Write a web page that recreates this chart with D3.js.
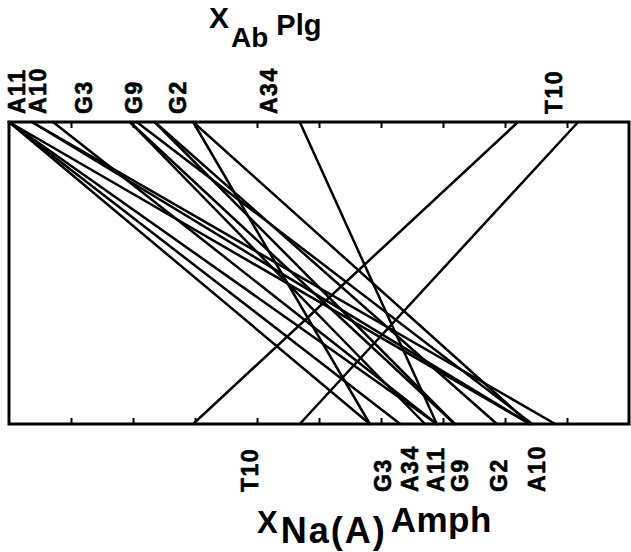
<!DOCTYPE html>
<html><head><meta charset="utf-8">
<script src="https://cdn.jsdelivr.net/npm/d3@7"></script>
<style>body{margin:0;background:#fff}svg{display:block}text{font-family:"Liberation Sans",Arial,sans-serif;font-weight:bold;fill:#000}</style>
</head><body><div id="chart"></div>
<script>
// Tie-lines: plagioclase X_Ab (top axis) to amphibole X_Na(A) (bottom axis), relative axis units 0..1
const plgAb   = [0.000, 0.000, 0.000, 0.000, 0.037, 0.037, 0.071, 0.195, 0.206, 0.235, 0.235, 0.297, 0.297, 0.469, 0.821, 0.918, 0.195];
const amphNaA = [0.582, 0.631, 0.690, 0.840, 0.840, 0.881, 0.690, 0.719, 0.844, 0.719, 0.787, 0.582, 0.840, 0.690, 0.297, 0.469, 0.671];
// Sample labels and their positions on each axis
const topSamples    = ["A11", "A10", "G3", "G9", "G2", "A34", "T10"];
const topSamplePos  = [0.011, 0.045, 0.119, 0.200, 0.271, 0.418, 0.877];
const bottomSamples = ["T10", "G3", "A34", "A11", "G9", "G2", "A10"];
const bottomSamplePos = [0.387, 0.602, 0.645, 0.687, 0.726, 0.789, 0.850];
const tickValues = [0.1, 0.2, 0.3, 0.4, 0.5, 0.6, 0.7, 0.8, 0.9];

(function () {
const W = 631, H = 552;
const pL = 9, pR = 629, pT = 122, pB = 424;
const svg = d3.select("#chart").append("svg").attr("width", W).attr("height", H);
const x = d3.scaleLinear().domain([0, 1]).range([pL, pR]);

// frame
svg.append("rect").attr("x", pL).attr("y", pT).attr("width", pR - pL).attr("height", pB - pT)
  .attr("fill", "none").attr("stroke", "#000").attr("stroke-width", 3);

// ticks (inward)
const topAxis = d3.axisBottom(x).tickValues(tickValues).tickSize(6).tickFormat("");
const botAxis = d3.axisTop(x).tickValues(tickValues).tickSize(6).tickFormat("");
const gT = svg.append("g").attr("transform", `translate(0,${pT})`).call(topAxis);
const gB = svg.append("g").attr("transform", `translate(0,${pB})`).call(botAxis);
[gT, gB].forEach(g => { g.select(".domain").remove(); g.selectAll("line").attr("stroke", "#000").attr("stroke-width", 2); });

// tie lines
svg.append("g").selectAll("line").data(plgAb).join("line")
  .attr("x1", d => x(d)).attr("y1", pT)
  .attr("x2", (d, i) => x(amphNaA[i])).attr("y2", pB)
  .attr("stroke", "#000").attr("stroke-width", 2.5).attr("stroke-linecap", "round");

// sample labels (rotated)
svg.append("g").selectAll("text").data(topSamples).join("text")
  .attr("transform", (d, i) => `translate(${x(topSamplePos[i]) + 9},114) rotate(-90)`)
  .attr("font-size", 23).attr("letter-spacing", 1.5).attr("stroke", "#000").attr("stroke-width", 0.6).text(d => d);
svg.append("g").selectAll("text").data(bottomSamples).join("text")
  .attr("transform", (d, i) => `translate(${x(bottomSamplePos[i]) + 9},492) rotate(-90)`)
  .attr("font-size", 23).attr("letter-spacing", 1.5).attr("stroke", "#000").attr("stroke-width", 0.6).text(d => d);

// axis titles
const t1 = svg.append("text").attr("x", 209).attr("y", 28).attr("font-size", 30);
t1.append("tspan").text("X");
t1.append("tspan").attr("dy", 19).attr("dx", 2).attr("font-size", 28).text("Ab");
t1.append("tspan").attr("dy", -12).attr("dx", 8).attr("font-size", 29).text("Plg");

const t2 = svg.append("text").attr("x", 257).attr("y", 533).attr("font-size", 31);
t2.append("tspan").text("X");
t2.append("tspan").attr("dy", 10).attr("dx", 3).attr("font-size", 36).attr("letter-spacing", 2).text("Na(A)");
t2.append("tspan").attr("dy", -11).attr("dx", 4).attr("font-size", 35).attr("letter-spacing", 0.5).text("Amph");
})();
</script></body></html>
